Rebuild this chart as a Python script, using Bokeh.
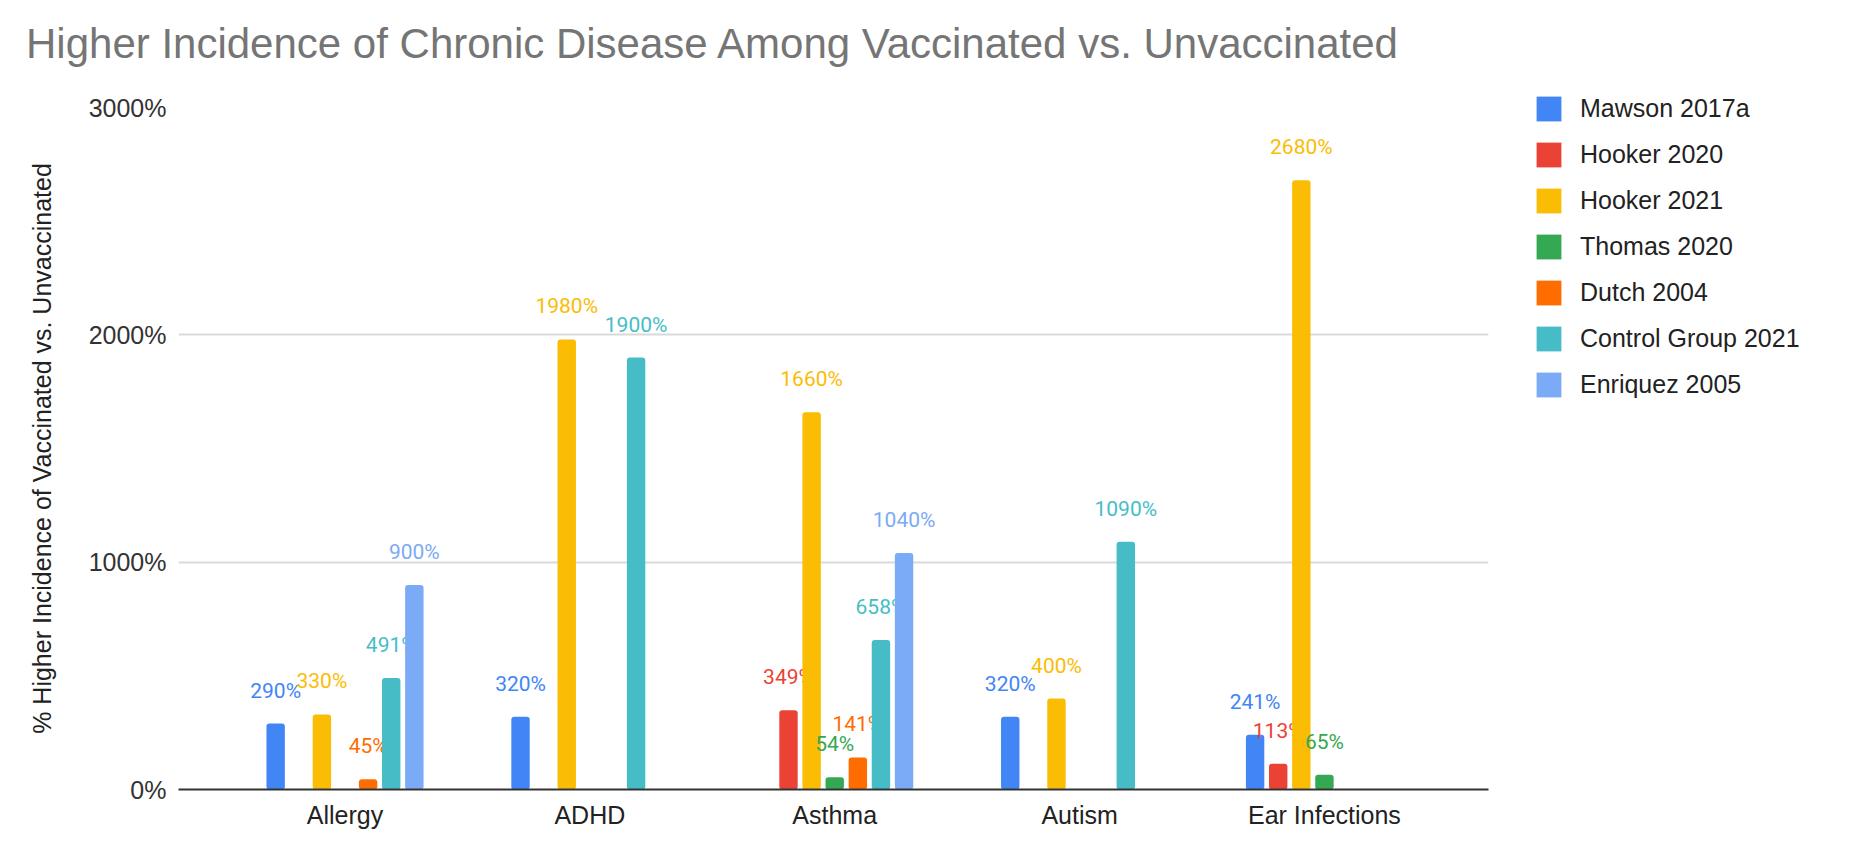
import numpy as np
from bokeh.plotting import figure
from bokeh.layouts import column
from bokeh.models import (ColumnDataSource, Range1d, FixedTicker, PrintfTickFormatter,
                          Legend, LegendItem, Div)
from bokeh.core.properties import value
from bokeh.embed import file_html
from bokeh.resources import INLINE

title = "Higher Incidence of Chronic Disease Among Vaccinated vs. Unvaccinated"
y_label = "% Higher Incidence of Vaccinated vs. Unvaccinated"
categories = ["Allergy", "ADHD", "Asthma", "Autism", "Ear Infections"]

series_names = ["Mawson 2017a", "Hooker 2020", "Hooker 2021", "Thomas 2020",
                "Dutch 2004", "Control Group 2021", "Enriquez 2005"]
mawson_2017a = [290, 320, None, 320, 241]
hooker_2020 = [None, None, 349, None, 113]
hooker_2021 = [330, 1980, 1660, 400, 2680]
thomas_2020 = [None, None, 54, None, 65]
dutch_2004 = [45, None, 141, None, None]
control_group_2021 = [491, 1900, 658, 1090, None]
enriquez_2005 = [900, None, 1040, None, None]
series_values = [mawson_2017a, hooker_2020, hooker_2021, thomas_2020,
                 dutch_2004, control_group_2021, enriquez_2005]
colors = ["#4285F4", "#EA4335", "#FBBC04", "#34A853", "#FF6D01", "#46BDC6", "#7BAAF7"]
y_ticks = [0, 1000, 2000, 3000]

TITLE_H = 70
head = Div(text=title, width=1840, height=TITLE_H, margin=0,
           styles={"font-family": "'Liberation Sans', Arial, sans-serif",
                   "font-size": "42px", "line-height": "48px", "color": "#757575",
                   "padding-top": "20px", "padding-left": "26px",
                   "box-sizing": "border-box", "white-space": "nowrap"})

p = figure(frame_width=1310, frame_height=682, output_backend="svg",
           toolbar_location=None,
           x_range=Range1d(-0.68, 4.67), y_range=Range1d(0, 3000),
           min_border_left=178, min_border_right=0, min_border_top=107 - TITLE_H,
           min_border_bottom=48, margin=0)
p.outline_line_color = None
p.background_fill_color = "white"
p.border_fill_color = "white"

pitch = 0.0944
bar_w = 0.0752
idx = np.arange(len(categories))
items = []
for s, (name, vals, col) in enumerate(zip(series_names, series_values, colors)):
    mask = [v is not None for v in vals]
    xs = (idx + (s - 3) * pitch)[mask]
    ys = [v for v in vals if v is not None]
    src = ColumnDataSource(dict(x=xs, top=ys, lab=[f"{v}%" for v in ys]))
    r = p.vbar(x="x", top="top", width=bar_w, bottom=0, source=src,
               fill_color=col, line_color=None, border_radius=3)
    p.text(x="x", y="top", text="lab", source=src, text_color=col,
           text_font=value("Roboto"), text_font_size="21px",
           text_align="center", text_baseline="middle", y_offset=-33)
    items.append(LegendItem(label=name, renderers=[r]))

# axes
p.xaxis.ticker = FixedTicker(ticks=list(range(len(categories))))
p.xaxis.major_label_overrides = {i: c for i, c in enumerate(categories)}
p.xaxis.major_label_text_font = "Liberation Sans"
p.xaxis.major_label_text_font_size = "25px"
p.xaxis.major_label_text_color = "#222222"
p.xaxis.major_tick_line_color = None
p.xaxis.minor_tick_line_color = None
p.xaxis.major_tick_out = 0
p.xaxis.major_label_standoff = 11
p.xaxis.axis_line_color = "#333333"
p.xaxis.axis_line_width = 2

p.yaxis.ticker = FixedTicker(ticks=y_ticks)
p.yaxis.formatter = PrintfTickFormatter(format="%d%%")
p.yaxis.major_label_text_font = "Liberation Sans"
p.yaxis.major_label_text_font_size = "25px"
p.yaxis.major_label_text_color = "#333333"
p.yaxis.major_tick_line_color = None
p.yaxis.minor_tick_line_color = None
p.yaxis.major_tick_out = 0
p.yaxis.major_label_standoff = 12
p.yaxis.axis_line_color = None
p.yaxis.axis_label = y_label
p.yaxis.axis_label_text_font = "Liberation Sans"
p.yaxis.axis_label_text_font_size = "25px"
p.yaxis.axis_label_text_font_style = "normal"
p.yaxis.axis_label_text_color = "#222222"
p.yaxis.axis_label_standoff = 30

p.xgrid.grid_line_color = None
p.ygrid.grid_line_color = "#d9d9d9"
p.ygrid.grid_line_width = 2

legend = Legend(items=items, location=(45, 389), orientation="vertical",
                label_text_font="Liberation Sans", label_text_font_size="25px",
                label_text_color="#222222", glyph_width=31, glyph_height=31,
                label_height=25, label_standoff=16, spacing=15, padding=0,
                margin=45, border_line_color=None, background_fill_alpha=0)
p.add_layout(legend, "right")

layout = column(head, p, spacing=0, margin=0)
open("out.html", "w").write(file_html(layout, INLINE))
